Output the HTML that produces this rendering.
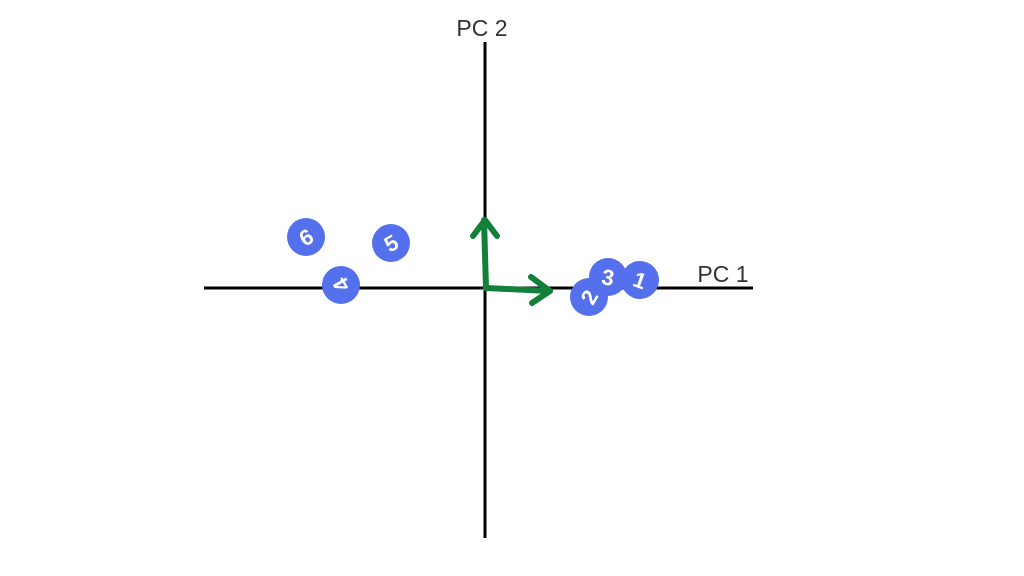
<!DOCTYPE html>
<html><head><meta charset="utf-8"><style>
html,body{margin:0;padding:0;background:#fff;width:1024px;height:576px;overflow:hidden}
</style></head><body>
<svg width="1024" height="576" viewBox="0 0 1024 576" xmlns="http://www.w3.org/2000/svg">
<rect width="1024" height="576" fill="#fff"/>
<line x1="204" y1="288" x2="753" y2="288" stroke="#000" stroke-width="3"/>
<line x1="485" y1="42" x2="485" y2="538" stroke="#000" stroke-width="3"/>
<text x="482" y="36" font-family="Liberation Sans, sans-serif" font-size="23" fill="#333" text-anchor="middle">PC 2</text>
<text x="723" y="282" font-family="Liberation Sans, sans-serif" font-size="23" fill="#333" text-anchor="middle">PC 1</text>
<g fill="#5470ec">
<circle cx="306" cy="237" r="19"/>
<circle cx="391" cy="243" r="19"/>
<circle cx="341" cy="285" r="19"/>
<circle cx="640" cy="280" r="19"/>
<circle cx="608" cy="277" r="19"/>
<circle cx="589" cy="297" r="19"/>
</g>
<g font-family="Liberation Sans, sans-serif" font-size="22" font-weight="bold" fill="#fff" text-anchor="middle">
<text x="306" y="245" transform="rotate(-30 306 237)">6</text>
<text x="391" y="251" transform="rotate(-30 391 243)">5</text>
<text x="341" y="293" transform="rotate(-120 341 285)">4</text>
<text x="640" y="288" transform="rotate(20 640 280)">1</text>
<text x="608" y="285" transform="rotate(10 608 277)">3</text>
<text x="589" y="305" transform="rotate(-60 589 297)">2</text>
</g>
<g stroke="#137f3a" stroke-width="6" fill="none" stroke-linecap="round" stroke-linejoin="round">
<polyline points="486,288 484,220"/>
<polyline points="473,236 485,220 497,236"/>
<polyline points="486,288 550,291"/>
<polyline points="531,277 550,291 532,303"/>
</g>
</svg>
</body></html>
